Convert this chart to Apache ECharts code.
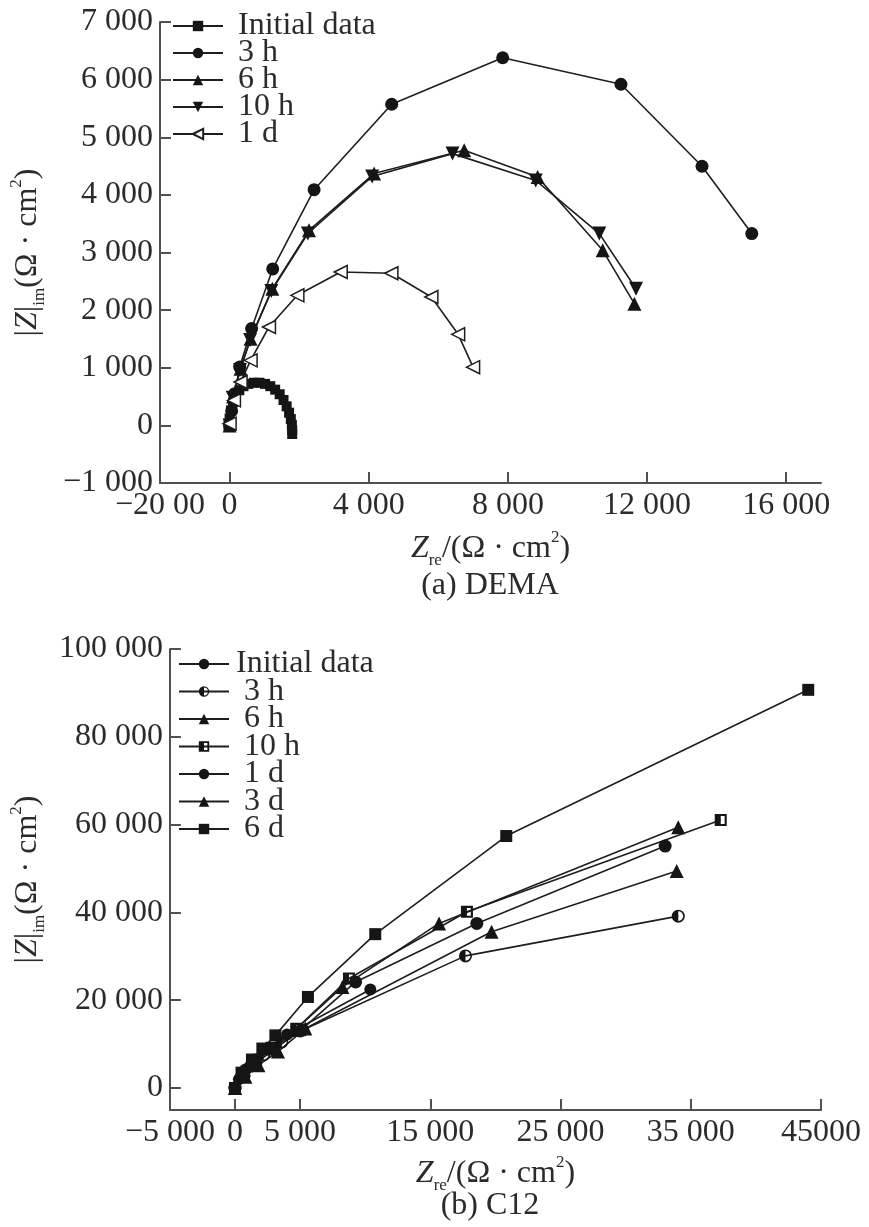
<!DOCTYPE html>
<html>
<head>
<meta charset="utf-8">
<script src="https://cdn.jsdelivr.net/npm/echarts@6/dist/echarts.min.js"></script>
<style>
  html, body { margin: 0; padding: 0; background: #fff; }
  #chartA { position: absolute; left: 0; top: 0; width: 869px; height: 614px; }
  #chartB { position: absolute; left: 0; top: 614px; width: 869px; height: 613px; }
</style>
</head>
<body>
<div id="chartA"></div>
<div id="chartB"></div>
<script>
// ---- (a) DEMA ----
const seriesNamesA = ['Initial data', '3 h', '6 h', '10 h', '1 d']
const initXA = [-30, 0, 40, 100, 180, 280, 400, 540, 700, 860, 1020, 1170, 1310, 1440, 1550, 1640, 1710, 1760, 1790, 1800, 1800]
const initYA = [0, 120, 260, 400, 520, 610, 680, 720, 740, 740, 720, 680, 620, 540, 440, 330, 220, 110, 10, -80, -150]
const h3XA = [0, 60, 150, 290, 633, 1240, 2430, 4660, 7850, 11250, 13580, 15010]
const h3YA = [0, 250, 550, 1012, 1680, 2715, 4090, 5573, 6380, 5920, 4497, 3328]
const h6XA = [0, 100, 316, 604, 1228, 2283, 4153, 6743, 8854, 10725, 11635]
const h6YA = [0, 500, 984, 1505, 2373, 3385, 4370, 4774, 4311, 3038, 2112]
const h10XA = [0, 90, 300, 590, 1200, 2250, 4100, 6408, 8800, 10628, 11683]
const h10YA = [0, 480, 960, 1480, 2330, 3330, 4320, 4716, 4250, 3328, 2372]
const d1XA = [0, 125, 316, 604, 1132, 1948, 3194, 4650, 5800, 6570, 7000]
const d1YA = [30, 434, 752, 1128, 1707, 2257, 2662, 2640, 2228, 1580, 1010]

const xTickValsA = [0, 4000, 8000, 12000, 16000]
const xLabelValsA = [-2000, 0, 4000, 8000, 12000, 16000]
const xLabelsA = ['−20 00', '0', '4 000', '8 000', '12 000', '16 000']
const yLabelValsA = [-1000, 0, 1000, 2000, 3000, 4000, 5000, 6000, 7000]
const yLabelsA = ['−1 000', '0', '1 000', '2 000', '3 000', '4 000', '5 000', '6 000', '7 000']

// ---- (b) C12 ----
const seriesNamesB = ['Initial data', '3 h', '6 h', '10 h', '1 d', '3 d', '6 d']
const initXB = [0, 300, 800, 1500, 2500, 4000, 10390]
const initYB = [0, 2000, 4200, 6500, 9000, 12200, 22440]
const h3XB = [0, 500, 1200, 2200, 3600, 5200, 17700, 34040]
const h3YB = [0, 2600, 5000, 7600, 10500, 13200, 30100, 39150]
const h6XB = [0, 600, 1500, 2800, 4600, 8250, 15670, 34040]
const h6YB = [0, 2800, 5600, 9000, 13200, 23030, 37490, 59380]
const h10XB = [0, 600, 1500, 2800, 4700, 8750, 17810, 37300]
const h10YB = [0, 3000, 5800, 9200, 13500, 24950, 40140, 61050]
const d1XB = [0, 700, 1600, 3000, 5000, 9260, 18570, 33030]
const d1YB = [0, 2800, 5600, 8800, 13000, 24170, 37490, 55120]
const d3XB = [0, 800, 1800, 3300, 5400, 19700, 33920]
const d3YB = [0, 2600, 5200, 8300, 13550, 35580, 49420]
const d6XB = [0, 500, 1300, 2100, 3100, 5600, 10770, 20830, 44020]
const d6YB = [0, 3500, 6500, 9000, 12000, 20750, 35050, 57400, 90700]

const xTickValsB = [0, 5000, 15000, 25000, 35000, 45000]
const xLabelValsB = [-5000, 0, 5000, 15000, 25000, 35000, 45000]
const xLabelsB = ['−5 000', '0', '5 000', '15 000', '25 000', '35 000', '45000']
const yLabelValsB = [0, 20000, 40000, 60000, 80000, 100000]
const yLabelsB = ['0', '20 000', '40 000', '60 000', '80 000', '100 000']

const FONT = 'Liberation Serif'
const TEXT = '#2b2b2b'
const AXIS = '#505050'
const LINE = '#1e1e1e'

const halfCircle = 'path://M0,-10 A10,10 0 1,1 0,10 A10,10 0 1,1 0,-10 Z M0,-7.5 A7.5,7.5 0 1,0 0,7.5 A7.5,7.5 0 1,0 0,-7.5 Z M0,-7.5 A7.5,7.5 0 0,0 0,7.5 Z'
const halfSquare = 'path://M0,0 H20 V20 H0 Z M3.5,3.5 V16.5 H16.5 V3.5 Z M3.5,3.5 H10 V16.5 H3.5 Z'

function zip(xs, ys) {
  return xs.map((x, i) => [x, ys[i]])
}

function lookup(vals, labels) {
  return v => {
    const i = vals.indexOf(v)
    return i < 0 ? '' : labels[i]
  }
}

const unitRich = {
  z: { fontFamily: FONT, fontSize: 32, fontStyle: 'italic', color: TEXT, lineHeight: 40 },
  s: { fontFamily: FONT, fontSize: 17, color: TEXT, verticalAlign: 'bottom', lineHeight: 17 },
  u: { fontFamily: FONT, fontSize: 17, color: TEXT, verticalAlign: 'top', lineHeight: 17 }
}

function axisBase(min, max, tickVals, labelVals, labels) {
  return {
    type: 'value',
    min: min,
    max: max,
    axisLine: { show: true, onZero: false, lineStyle: { color: AXIS, width: 2 } },
    axisTick: { show: true, inside: true, length: 11, customValues: tickVals, lineStyle: { color: AXIS, width: 2 } },
    axisLabel: {
      customValues: labelVals,
      formatter: lookup(labelVals, labels),
      fontFamily: FONT, fontSize: 32, color: TEXT, margin: 7
    },
    splitLine: { show: false }
  }
}

function lineSeries(name, data, symbol, size, extra) {
  return Object.assign({
    name: name,
    type: 'line',
    data: data,
    symbol: symbol,
    symbolSize: size,
    showSymbol: true,
    lineStyle: { color: LINE, width: 1.6 },
    itemStyle: { color: '#151515' },
    emphasis: { disabled: true },
    animation: false
  }, extra || {})
}

const chartA = echarts.init(document.getElementById('chartA'))
chartA.setOption({
  backgroundColor: '#fff',
  grid: { left: 160, top: 22, width: 661, height: 461 },
  legend: {
    orient: 'vertical', left: 172, top: 10, padding: 0,
    itemWidth: 50, itemHeight: 13, itemGap: -5,
    data: seriesNamesA,
    textStyle: { fontFamily: FONT, fontSize: 32, color: TEXT, padding: [0, 0, 0, 10] }
  },
  xAxis: Object.assign(axisBase(-2000, 17000, xTickValsA, xLabelValsA, xLabelsA), {
    name: '{z|Z}{s|re}/(Ω · cm{u|2})',
    nameLocation: 'middle', nameGap: 46,
    nameTextStyle: { fontFamily: FONT, fontSize: 32, color: TEXT, lineHeight: 40, rich: unitRich }
  }),
  yAxis: Object.assign(axisBase(-1000, 7000, yLabelValsA, yLabelValsA, yLabelsA), {
    interval: 1000,
    name: '|{z|Z}|{s|im}(Ω · cm{u|2})',
    nameLocation: 'middle', nameGap: 112,
    nameTextStyle: { fontFamily: FONT, fontSize: 32, color: TEXT, lineHeight: 40, rich: unitRich }
  }),
  graphic: [{
    type: 'text', x: 490, y: 586,
    style: { text: '(a) DEMA', fontFamily: FONT, fontSize: 32, fill: TEXT, align: 'center', verticalAlign: 'middle' }
  }],
  series: [
    lineSeries(seriesNamesA[0], zip(initXA, initYA), 'rect', 10),
    lineSeries(seriesNamesA[1], zip(h3XA, h3YA), 'circle', 13),
    lineSeries(seriesNamesA[2], zip(h6XA, h6YA), 'triangle', 14),
    lineSeries(seriesNamesA[3], zip(h10XA, h10YA), 'triangle', 14, { symbolRotate: 180 }),
    lineSeries(seriesNamesA[4], zip(d1XA, d1YA), 'triangle', 13, {
      symbolRotate: 90,
      itemStyle: { color: '#fff', borderColor: LINE, borderWidth: 1.5 }
    })
  ]
})

const chartB = echarts.init(document.getElementById('chartB'))
chartB.setOption({
  backgroundColor: '#fff',
  grid: { left: 160, top: 35, width: 661, height: 461 },
  legend: {
    orient: 'vertical', left: 178, top: 34, padding: 0,
    itemWidth: 50, itemHeight: 13, itemGap: -4.5,
    data: seriesNamesB,
    formatter: n => (n === 'Initial data' ? n : ' ' + n),
    textStyle: { fontFamily: FONT, fontSize: 32, color: TEXT, padding: [0, 0, 0, 2] }
  },
  xAxis: Object.assign(axisBase(-5000, 45000, xTickValsB, xLabelValsB, xLabelsB), {
    name: '{z|Z}{s|re}/(Ω · cm{u|2})',
    nameLocation: 'middle', nameGap: 34,
    nameTextStyle: { fontFamily: FONT, fontSize: 32, color: TEXT, lineHeight: 40, rich: unitRich }
  }),
  yAxis: Object.assign(axisBase(-5000, 100000, yLabelValsB, yLabelValsB, yLabelsB), {
    name: '|{z|Z}|{s|im}(Ω · cm{u|2})',
    nameLocation: 'middle', nameGap: 112,
    nameTextStyle: { fontFamily: FONT, fontSize: 32, color: TEXT, lineHeight: 40, rich: unitRich }
  }),
  graphic: [{
    type: 'text', x: 490, y: 592,
    style: { text: '(b) C12', fontFamily: FONT, fontSize: 32, fill: TEXT, align: 'center', verticalAlign: 'middle' }
  }],
  series: [
    lineSeries(seriesNamesB[0], zip(initXB, initYB), 'circle', 12),
    lineSeries(seriesNamesB[1], zip(h3XB, h3YB), halfCircle, 13),
    lineSeries(seriesNamesB[2], zip(h6XB, h6YB), 'triangle', 14),
    lineSeries(seriesNamesB[3], zip(h10XB, h10YB), halfSquare, 12),
    lineSeries(seriesNamesB[4], zip(d1XB, d1YB), 'circle', 13),
    lineSeries(seriesNamesB[5], zip(d3XB, d3YB), 'triangle', 14),
    lineSeries(seriesNamesB[6], zip(d6XB, d6YB), 'rect', 12)
  ]
})
</script>
</body>
</html>
